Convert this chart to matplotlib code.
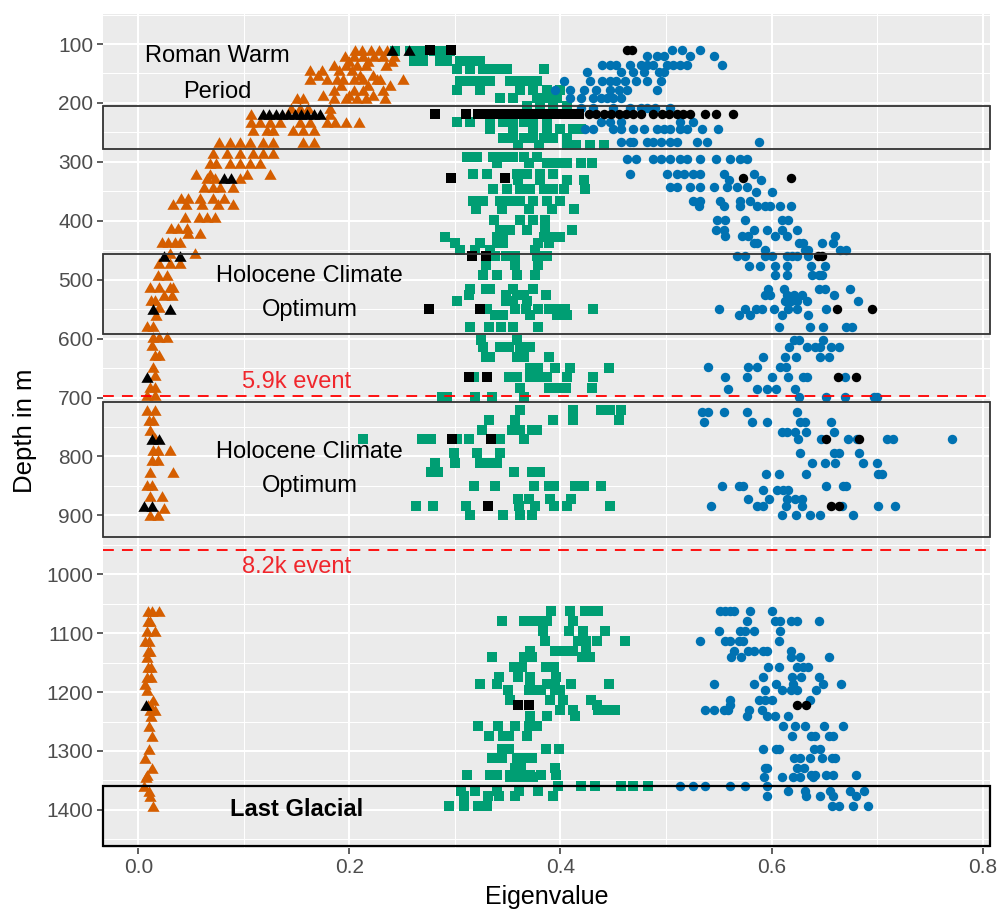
import matplotlib.pyplot as plt
import numpy as np
from matplotlib.patches import Rectangle
from matplotlib.ticker import MultipleLocator

plt.rcParams["font.family"] = ["Liberation Sans", "DejaVu Sans"]

ORANGE = "#D55E00"
GREEN = "#009E73"
BLUE = "#0072B2"

# smallest eigenvalue (triangles): one list of values per depth row
tri_depth = [110, 120, 128, 136, 144, 152, 160, 170, 178, 186, 192, 209, 219, 232, 246, 267,
             285, 302, 320, 328, 342, 362, 372, 393, 413, 421, 436, 455, 472, 492, 512, 526,
             535, 546, 560, 579, 597, 611, 628, 648, 662, 682, 696, 721, 738, 755, 769, 789,
             806, 826, 848, 868, 888, 899, 1063, 1080, 1097, 1114, 1131, 1141, 1158, 1175,
             1186, 1196, 1213, 1222, 1230, 1240, 1257, 1274, 1296, 1312, 1329, 1340, 1345,
             1360, 1368, 1377, 1394]
tri_vals = [
    [0.205, 0.212, 0.220, 0.228, 0.236],
    [0.196, 0.204, 0.213, 0.223, 0.232, 0.242],
    [0.200, 0.218, 0.240],
    [0.185, 0.197, 0.207, 0.216, 0.235],
    [0.163, 0.174, 0.190, 0.202],
    [0.170, 0.210, 0.222],
    [0.163, 0.179, 0.188, 0.194, 0.204, 0.213, 0.226, 0.229, 0.251],
    [0.192, 0.218, 0.238],
    [0.185, 0.204, 0.213, 0.232],
    [0.175, 0.200, 0.222],
    [0.150, 0.156, 0.185, 0.197, 0.207, 0.216, 0.234],
    [0.145, 0.153, 0.161, 0.182],
    [0.107, 0.182],
    [0.107, 0.115, 0.125, 0.134, 0.153, 0.163, 0.179, 0.186, 0.197, 0.209],
    [0.109, 0.122, 0.128, 0.147, 0.156, 0.166],
    [0.076, 0.087, 0.096, 0.106, 0.118, 0.128, 0.156, 0.166],
    [0.071, 0.084, 0.096, 0.109, 0.118, 0.128],
    [0.068, 0.074, 0.087, 0.096, 0.106, 0.115],
    [0.055, 0.068, 0.103, 0.125],
    [0.065, 0.073, 0.096],
    [0.062, 0.071, 0.077, 0.090],
    [0.040, 0.047, 0.058, 0.071, 0.081],
    [0.033, 0.045, 0.060, 0.075, 0.090],
    [0.044, 0.057, 0.065, 0.073],
    [0.031, 0.038, 0.046],
    [0.047, 0.058],
    [0.022, 0.028, 0.035, 0.039],
    [0.030, 0.054],
    [0.020, 0.030, 0.039],
    [0.019, 0.027],
    [0.011, 0.020, 0.030, 0.033],
    [0.024, 0.032],
    [0.012, 0.016],
    [0.020],
    [0.017],
    [0.008, 0.014],
    [0.014, 0.020, 0.027],
    [0.013],
    [0.016, 0.020],
    [0.014],
    [0.016],
    [0.011, 0.016],
    [0.008, 0.016],
    [0.008, 0.016],
    [0.010, 0.014],
    [0.011],
    [0.016],
    [0.014, 0.019, 0.030],
    [0.013, 0.019],
    [0.011, 0.033],
    [0.008, 0.013],
    [0.011, 0.022],
    [0.024],
    [0.011, 0.019],
    [0.009, 0.013, 0.020],
    [0.009, 0.011],
    [0.008, 0.016],
    [0.006, 0.010],
    [0.009, 0.011],
    [0.008],
    [0.009, 0.012],
    [0.008, 0.012],
    [0.006],
    [0.008],
    [0.014],
    [0.009, 0.011],
    [0.011, 0.016],
    [0.012],
    [0.010],
    [0.013],
    [0.010],
    [0.006],
    [0.013],
    [0.008],
    [0.007],
    [0.005],
    [0.010],
    [0.011],
    [0.014],
]

# middle eigenvalue (squares)
sq_depth = [112, 128, 142, 162, 178, 192, 206, 232, 244, 260, 272, 292, 302, 320, 330, 346,
            366, 380, 399, 416, 427, 438, 450, 460, 475, 492, 515, 526, 537, 549, 560, 581,
            602, 614, 631, 650, 665, 684, 699, 721, 738, 755, 771, 794, 811, 827, 850, 873,
            885, 899, 1063, 1080, 1097, 1114, 1131, 1141, 1158, 1175, 1186, 1196, 1213, 1222,
            1230, 1240, 1257, 1274, 1296, 1312, 1329, 1340, 1345, 1360, 1368, 1377, 1394]
sq_vals = [
    [0.243, 0.257, 0.263, 0.270, 0.280, 0.286, 0.295],
    [0.261, 0.270, 0.286, 0.292, 0.305, 0.311, 0.317, 0.324],
    [0.302, 0.314, 0.327, 0.336, 0.346, 0.349, 0.384],
    [0.305, 0.314, 0.324, 0.333, 0.352, 0.362, 0.371, 0.378],
    [0.302, 0.324, 0.362, 0.374, 0.387, 0.400],
    [0.343, 0.355, 0.378, 0.387, 0.397],
    [0.368, 0.381, 0.393, 0.406],
    [0.302, 0.314, 0.333, 0.346, 0.355, 0.365, 0.374, 0.387],
    [0.333, 0.355, 0.374, 0.387, 0.400, 0.412, 0.419],
    [0.346, 0.355, 0.365, 0.374, 0.384, 0.393, 0.406],
    [0.360, 0.380, 0.406, 0.415, 0.428, 0.441],
    [0.311, 0.321, 0.336, 0.346, 0.355, 0.365, 0.378],
    [0.340, 0.370, 0.387, 0.397, 0.406, 0.419, 0.430],
    [0.317, 0.330, 0.359, 0.368, 0.381, 0.393],
    [0.360, 0.381, 0.406, 0.422],
    [0.336, 0.349, 0.362, 0.371, 0.384, 0.393, 0.403, 0.423],
    [0.317, 0.327, 0.343, 0.352, 0.362, 0.374, 0.387, 0.400],
    [0.320, 0.345, 0.370, 0.392, 0.413],
    [0.337, 0.362, 0.374, 0.385],
    [0.343, 0.352, 0.368, 0.385, 0.411],
    [0.291, 0.340, 0.346, 0.384, 0.392, 0.400],
    [0.300, 0.324, 0.340, 0.346, 0.379, 0.389],
    [0.305, 0.319, 0.333, 0.376],
    [0.338, 0.348, 0.357, 0.378, 0.387],
    [0.329, 0.357, 0.379],
    [0.327, 0.340, 0.359, 0.376],
    [0.314, 0.329, 0.333, 0.355, 0.374],
    [0.313, 0.348, 0.359, 0.365, 0.386],
    [0.302, 0.348, 0.355, 0.368],
    [0.330, 0.357, 0.367, 0.379, 0.389, 0.397, 0.404, 0.431],
    [0.338, 0.346, 0.371, 0.397, 0.406],
    [0.314, 0.332, 0.344, 0.355, 0.379],
    [0.325, 0.359],
    [0.327, 0.343, 0.351, 0.362, 0.371],
    [0.329, 0.333, 0.359, 0.365, 0.389],
    [0.371, 0.379, 0.395, 0.409, 0.446],
    [0.318, 0.351, 0.359, 0.371, 0.379, 0.387, 0.406, 0.431],
    [0.362, 0.389, 0.397, 0.405, 0.430],
    [0.288, 0.292, 0.319, 0.335, 0.365],
    [0.362, 0.412, 0.438, 0.447, 0.457],
    [0.332, 0.357, 0.393, 0.412, 0.455],
    [0.326, 0.354, 0.362, 0.373, 0.378],
    [0.213, 0.269, 0.277, 0.302, 0.313, 0.343, 0.365],
    [0.299, 0.321, 0.343],
    [0.281, 0.300, 0.324, 0.332, 0.340],
    [0.277, 0.284, 0.356, 0.373, 0.381],
    [0.318, 0.338, 0.375, 0.389, 0.394, 0.414, 0.422, 0.438],
    [0.360, 0.370, 0.390, 0.410],
    [0.263, 0.279, 0.310, 0.361, 0.376, 0.394, 0.406, 0.447],
    [0.314, 0.346, 0.362, 0.373],
    [0.391, 0.409, 0.423, 0.430, 0.436],
    [0.345, 0.365, 0.371, 0.378, 0.387, 0.412],
    [0.383, 0.408, 0.421, 0.442],
    [0.385, 0.417, 0.424, 0.435, 0.461],
    [0.371, 0.395, 0.403, 0.412, 0.424],
    [0.335, 0.365, 0.373, 0.420, 0.428],
    [0.356, 0.364, 0.386, 0.394],
    [0.342, 0.360, 0.371, 0.396],
    [0.324, 0.340, 0.371, 0.387, 0.395, 0.410, 0.446],
    [0.350, 0.370, 0.376, 0.382, 0.395, 0.400],
    [0.352, 0.390, 0.402, 0.429],
    [0.435],
    [0.400, 0.412, 0.436, 0.444, 0.452],
    [0.371, 0.387, 0.414],
    [0.322, 0.341, 0.357, 0.370, 0.378],
    [0.332, 0.346, 0.351, 0.368],
    [0.345, 0.351, 0.386, 0.399],
    [0.335, 0.345, 0.359, 0.367, 0.373],
    [0.357, 0.363, 0.395],
    [0.311, 0.333, 0.340, 0.352, 0.365, 0.371, 0.382, 0.396],
    [0.352, 0.360, 0.368, 0.374],
    [0.398, 0.419, 0.433, 0.457, 0.469, 0.483],
    [0.306, 0.319, 0.340, 0.361, 0.379],
    [0.309, 0.331, 0.342, 0.357, 0.393],
    [0.294, 0.309, 0.322, 0.330],
]

# largest eigenvalue (circles)
ci_depth = [110, 121, 135, 147, 162, 178, 192, 209, 232, 245, 267, 296, 320, 330, 343, 352,
            366, 375, 399, 416, 426, 438, 450, 460, 477, 492, 515, 526, 537, 549, 560, 581,
            602, 614, 631, 649, 665, 686, 699, 724, 741, 758, 771, 794, 811, 829, 850, 857,
            873, 884, 900, 1063, 1080, 1097, 1114, 1131, 1141, 1158, 1175, 1186, 1196, 1213,
            1222, 1230, 1240, 1257, 1274, 1296, 1312, 1329, 1340, 1345, 1360, 1368, 1377, 1394]
ci_vals = [
    [0.506, 0.515, 0.532],
    [0.482, 0.491, 0.498, 0.523, 0.545],
    [0.439, 0.447, 0.453, 0.466, 0.476, 0.482, 0.488, 0.501, 0.507, 0.513, 0.520, 0.553],
    [0.425, 0.457, 0.469, 0.479, 0.493, 0.498],
    [0.403, 0.428, 0.439, 0.447, 0.453, 0.461, 0.472, 0.482, 0.495],
    [0.395, 0.409, 0.422, 0.434, 0.447, 0.455, 0.463, 0.491],
    [0.409, 0.419, 0.431, 0.438, 0.444, 0.450, 0.457],
    [0.419, 0.431, 0.450, 0.466, 0.476, 0.482, 0.490, 0.504],
    [0.438, 0.447, 0.457, 0.513, 0.526],
    [0.423, 0.431, 0.450, 0.457, 0.469, 0.479, 0.491, 0.498, 0.504, 0.513, 0.520, 0.534, 0.549],
    [0.457, 0.466, 0.469, 0.482, 0.488, 0.495, 0.504, 0.510, 0.529, 0.539, 0.588],
    [0.463, 0.472, 0.488, 0.495, 0.504, 0.513, 0.520, 0.532, 0.547, 0.561, 0.570, 0.577],
    [0.466, 0.501, 0.510, 0.517, 0.526, 0.532, 0.555, 0.583],
    [0.560, 0.590],
    [0.504, 0.510, 0.523, 0.532, 0.545, 0.558, 0.567, 0.577],
    [0.585, 0.600],
    [0.526, 0.532, 0.551, 0.570, 0.580],
    [0.531, 0.555, 0.570, 0.586, 0.594, 0.599, 0.608, 0.618],
    [0.548, 0.556, 0.575, 0.610, 0.616],
    [0.547, 0.555, 0.583, 0.596, 0.610, 0.624],
    [0.556, 0.572, 0.578, 0.603, 0.615, 0.660],
    [0.583, 0.586, 0.626, 0.630, 0.648, 0.658],
    [0.594, 0.632, 0.635, 0.665, 0.671],
    [0.567, 0.575, 0.594, 0.600, 0.615, 0.619, 0.624, 0.635],
    [0.579, 0.589, 0.603, 0.615, 0.637, 0.651],
    [0.603, 0.615, 0.638, 0.645, 0.648],
    [0.597, 0.612, 0.645, 0.651, 0.674],
    [0.594, 0.599, 0.615, 0.621, 0.629, 0.659],
    [0.613, 0.618, 0.624, 0.634, 0.682],
    [0.550, 0.575, 0.585, 0.591, 0.602, 0.616, 0.624, 0.652],
    [0.569, 0.580, 0.610, 0.635],
    [0.607, 0.636, 0.649, 0.671, 0.676],
    [0.621, 0.626, 0.649],
    [0.617, 0.634, 0.641, 0.646, 0.656, 0.664],
    [0.592, 0.613, 0.623, 0.646, 0.654],
    [0.540, 0.578, 0.586, 0.608, 0.614],
    [0.556, 0.577, 0.600, 0.616, 0.630, 0.634, 0.670],
    [0.559, 0.586, 0.596, 0.604, 0.622],
    [0.626, 0.652, 0.670, 0.697, 0.700],
    [0.534, 0.540, 0.555, 0.577, 0.624],
    [0.536, 0.581, 0.596, 0.627, 0.632, 0.656],
    [0.610, 0.615, 0.622, 0.633, 0.659],
    [0.625, 0.647, 0.672, 0.681, 0.709, 0.715, 0.771],
    [0.627, 0.659, 0.664, 0.683],
    [0.638, 0.651, 0.660, 0.687, 0.700],
    [0.595, 0.607, 0.633, 0.701, 0.705],
    [0.553, 0.569, 0.573, 0.652, 0.668, 0.671],
    [0.592, 0.605, 0.611, 0.616],
    [0.578, 0.598, 0.615, 0.622, 0.629],
    [0.543, 0.586, 0.592, 0.614, 0.629, 0.667, 0.701, 0.717],
    [0.610, 0.623, 0.636, 0.646, 0.677],
    [0.551, 0.556, 0.561, 0.564, 0.580, 0.600],
    [0.577, 0.603, 0.608, 0.618, 0.624, 0.645],
    [0.550, 0.570, 0.575, 0.583, 0.608],
    [0.532, 0.556, 0.561, 0.569, 0.573, 0.607],
    [0.564, 0.578, 0.583, 0.592, 0.596, 0.618],
    [0.562, 0.571, 0.618, 0.627, 0.654],
    [0.597, 0.607, 0.624, 0.630, 0.635],
    [0.592, 0.619, 0.628, 0.645],
    [0.545, 0.583, 0.604, 0.620, 0.649, 0.666],
    [0.594, 0.610, 0.618, 0.624, 0.642],
    [0.561, 0.588, 0.594, 0.600, 0.636],
    [0.561],
    [0.537, 0.545, 0.555, 0.559, 0.579, 0.591],
    [0.577, 0.596, 0.603, 0.616],
    [0.611, 0.622, 0.632, 0.650, 0.668],
    [0.619, 0.637, 0.641, 0.654, 0.658],
    [0.592, 0.604, 0.607, 0.640, 0.646],
    [0.621, 0.627, 0.636, 0.648, 0.657, 0.660],
    [0.594, 0.596, 0.624, 0.631],
    [0.637, 0.641, 0.652, 0.658, 0.680],
    [0.593, 0.610, 0.620, 0.627, 0.639],
    [0.513, 0.526, 0.537, 0.561, 0.575, 0.596],
    [0.616, 0.632, 0.655, 0.674, 0.688],
    [0.596, 0.633, 0.646, 0.658, 0.680],
    [0.657, 0.664, 0.677, 0.691],
]

# highlighted samples (drawn in black)
hl_depth = [110, 219, 328, 460, 549, 665, 771, 884, 1222]
hl_tri = [
    [0.240, 0.256],
    [0.118, 0.124, 0.130, 0.136, 0.142, 0.148, 0.154, 0.160, 0.166, 0.172],
    [0.081, 0.088],
    [0.024, 0.039],
    [0.014, 0.030],
    [0.008],
    [0.013, 0.020],
    [0.005, 0.013],
    [0.007],
]
hl_sq = [
    [0.276, 0.296],
    [0.281, 0.310, 0.322, 0.330, 0.338, 0.346, 0.354, 0.362, 0.370, 0.378, 0.386,
     0.394, 0.402, 0.410, 0.418],
    [0.296, 0.347],
    [0.316, 0.329],
    [0.275, 0.324],
    [0.313, 0.330],
    [0.297, 0.334],
    [0.331],
    [0.360, 0.370],
]
hl_ci = [
    [0.463, 0.468],
    [0.427, 0.434, 0.441, 0.448, 0.455, 0.462, 0.469, 0.476, 0.488, 0.496, 0.503,
     0.510, 0.516, 0.523, 0.537, 0.547, 0.563],
    [0.573, 0.618],
    [0.644, 0.648],
    [0.662, 0.695],
    [0.663, 0.680],
    [0.652, 0.683],
    [0.656, 0.664],
    [0.624, 0.633],
]

# climate periods (depth ranges) and events (depths)
zone_top = [205, 456, 708, 1359]
zone_bottom = [278, 592, 937, 1462]
event_depth = [697, 959]
event_label = ["5.9k event", "8.2k event"]


def expand(depths, rows):
    x = [v for row in rows for v in row]
    y = [d for d, row in zip(depths, rows) for _ in row]
    return np.array(x), np.array(y)


TRI = [(0, 1), (-1.15, -1), (1.15, -1)]

fig = plt.figure(figsize=(9.99, 9.11), dpi=100)
ax = fig.add_axes([0.1031, 0.0692, 0.8879, 0.9154])
ax.set_facecolor("#EBEBEB")

series = [
    (tri_depth, tri_vals, TRI, 8.8, ORANGE),
    (sq_depth, sq_vals, "s", 6.9, GREEN),
    (ci_depth, ci_vals, "o", 6.8, BLUE),
    (hl_depth, hl_tri, TRI, 8.8, "black"),
    (hl_depth, hl_sq, "s", 6.9, "black"),
    (hl_depth, hl_ci, "o", 6.8, "black"),
]
for depths, rows, marker, ms, color in series:
    x, y = expand(depths, rows)
    ax.plot(x, y, linestyle="none", marker=marker, ms=ms, color=color,
            markeredgewidth=0, zorder=3)

ytrans = ax.get_yaxis_transform()
for i, (top, bot) in enumerate(zip(zone_top, zone_bottom)):
    last = i == len(zone_top) - 1
    ax.add_patch(Rectangle((0, top), 1, bot - top, transform=ytrans, fill=False,
                           edgecolor="black" if last else "#333333",
                           lw=1.6 if last else 1.3, zorder=4, clip_on=False))
for d in event_depth:
    ax.axhline(d, color="#FF0000", lw=1.3, dashes=(6, 4.5), zorder=4)

ax.text(0.075, 151, "Roman Warm\nPeriod", ha="center", va="center", fontsize=17,
        linespacing=1.78, zorder=5)
ax.text(0.162, 523, "Holocene Climate\nOptimum", ha="center", va="center", fontsize=17,
        linespacing=1.72, zorder=5)
ax.text(0.162, 821, "Holocene Climate\nOptimum", ha="center", va="center", fontsize=17,
        linespacing=1.72, zorder=5)
ax.text(0.150, 673, event_label[0], ha="center", va="center", fontsize=17,
        color="#F0262C", zorder=5)
ax.text(0.150, 988, event_label[1], ha="center", va="center", fontsize=17,
        color="#F0262C", zorder=5)
ax.text(0.150, 1400, "Last Glacial", ha="center", va="center", fontsize=17,
        fontweight="bold", zorder=5)

ax.set_xlim(-0.0335, 0.807)
ax.set_ylim(1464.6, 49.1)
ax.xaxis.set_major_locator(MultipleLocator(0.2))
ax.xaxis.set_minor_locator(MultipleLocator(0.1))
ax.set_yticks(np.arange(100, 1401, 100))
ax.set_yticks(np.arange(50, 1451, 100), minor=True)
ax.grid(which="major", color="white", lw=1.5)
ax.grid(which="minor", color="white", lw=0.75)
ax.set_axisbelow(True)
for s in ax.spines.values():
    s.set_visible(False)
ax.tick_params(which="major", direction="out", length=4, width=1.1, color="#333333",
               labelcolor="#4D4D4D", labelsize=15, pad=3)
ax.tick_params(which="minor", length=0)
ax.set_xlabel("Eigenvalue", fontsize=18, labelpad=6)
ax.set_ylabel("Depth in m", fontsize=18.5, labelpad=7)

fig.savefig("out.png", dpi=100)
